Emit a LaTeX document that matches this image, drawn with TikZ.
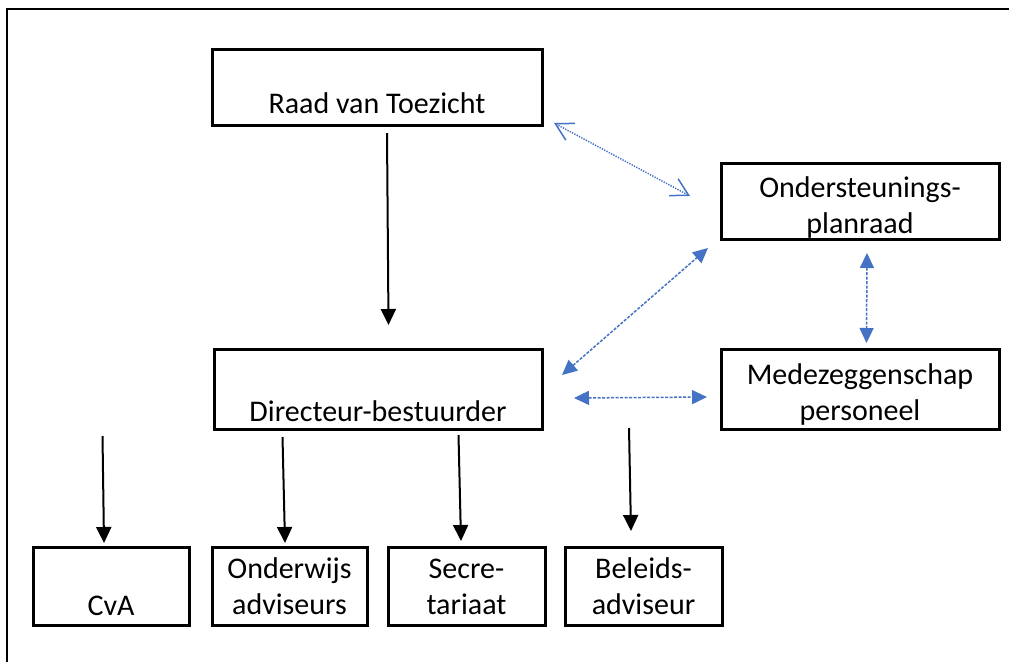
\documentclass[tikz,border=0pt]{standalone}
\usepackage{fontspec}
\setmainfont{Carlito}
\usetikzlibrary{arrows.meta}
\definecolor{ablue}{HTML}{4472C4}
\begin{document}
\begin{tikzpicture}[x=1pt,y=-1pt,
  box/.style={draw=black, line width=3pt, inner sep=0pt, align=center,
    font=\fontsize{30}{36}\selectfont},
  frameline/.style={draw=black, line width=2.5pt},
  blackarrow/.style={draw=black, line width=2pt, -{Triangle[length=16pt,width=15pt]}},
  bluedash/.style={draw=ablue, line width=1.5pt, dash pattern=on 3pt off 1.5pt,
    {Triangle[length=15pt,width=14pt]}-{Triangle[length=15pt,width=14pt]}},
  bluedot/.style={draw=ablue, line width=1.5pt, dash pattern=on 1.3pt off 1.3pt,
    {Straight Barb[length=17pt,width=19pt,line width=1.5pt]}-{Straight Barb[length=17pt,width=19pt,line width=1.5pt]}}
]
\useasboundingbox (0,0) rectangle (1009,662);
% outer frame (top and left edges)
\coordinate (ftr) at (1009,9);
\coordinate (ftl) at (7,9);
\coordinate (fbl) at (7,662);
\draw[frameline] (ftr) -- (ftl) -- (fbl);

% boxes
\node[box, minimum width=330pt, minimum height=76pt, text height=60pt, text depth=8pt]
  (rvt) at (377,87) {Raad van Toezicht};
\node[box, minimum width=278pt, minimum height=76pt, text height=69pt, text depth=5pt]
  (osp) at (860,201) {Ondersteunings-\\planraad};
\node[box, minimum width=328pt, minimum height=80pt, text height=70pt, text depth=6pt]
  (dir) at (378,389) {Directeur-bestuurder};
\node[box, minimum width=278pt, minimum height=80pt, text height=68pt, text depth=6pt]
  (mzp) at (860,389) {Medezeggenschap\\personeel};
\node[box, minimum width=156pt, minimum height=78pt, text height=64pt, text depth=6pt]
  (cva) at (111,586) {CvA};
\node[box, minimum width=155pt, minimum height=78pt, text height=62pt, text depth=6pt]
  (owa) at (289.5,586) {Onderwijs\\adviseurs};
\node[box, minimum width=157pt, minimum height=78pt, text height=62pt, text depth=6pt]
  (sec) at (466.5,586) {Secre-\\tariaat};
\node[box, minimum width=157pt, minimum height=78pt, text height=62pt, text depth=6pt]
  (bel) at (643.5,586) {Beleids-\\adviseur};

% black arrows
\coordinate (r1) at (387,133);
\coordinate (r2) at (388.5,325);
\draw[blackarrow] (r1) -- (r2);
\coordinate (c1) at (102.5,436);
\coordinate (c2) at (104,543);
\draw[blackarrow] (c1) -- (c2);
\coordinate (o1) at (282.5,437);
\coordinate (o2) at (285,543);
\draw[blackarrow] (o1) -- (o2);
\coordinate (s1) at (458.5,435);
\coordinate (s2) at (461,541);
\draw[blackarrow] (s1) -- (s2);
\coordinate (b1) at (629,428);
\coordinate (b2) at (631,531);
\draw[blackarrow] (b1) -- (b2);

% blue arrows
\coordinate (d1) at (554,123);
\coordinate (d2) at (690,196);
\draw[bluedot] (d1) -- (d2);
\coordinate (e1) at (562,375);
\coordinate (e2) at (708,248);
\draw[bluedash] (e1) -- (e2);
\coordinate (h1) at (574,398);
\coordinate (h2) at (707,397);
\draw[bluedash] (h1) -- (h2);
\coordinate (v1) at (867,253);
\coordinate (v2) at (866.5,343);
\draw[bluedash] (v1) -- (v2);
\end{tikzpicture}
\end{document}
